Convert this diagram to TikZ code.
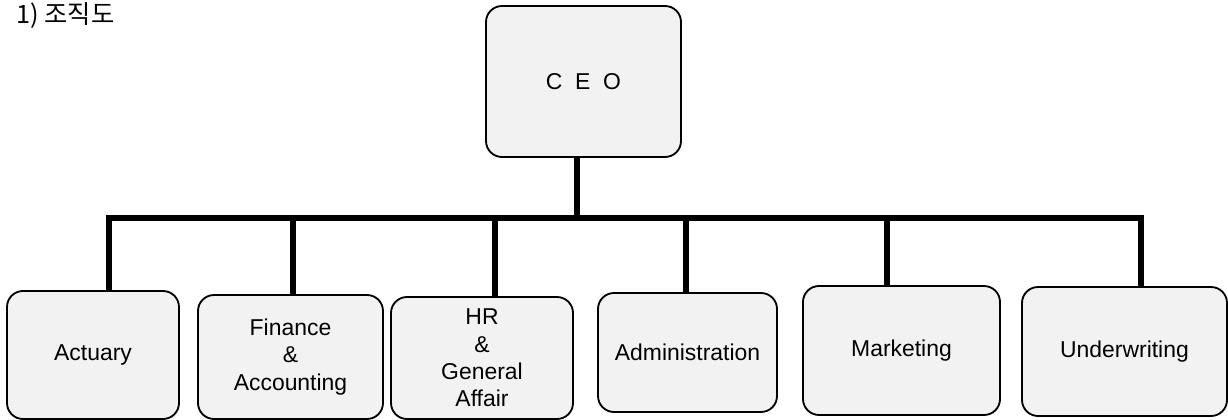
\documentclass[tikz,border=0pt]{standalone}
\usepackage{fontspec}
\setmainfont{Liberation Sans}
\newfontfamily\krfont{Noto Sans CJK KR}
\usetikzlibrary{calc}
\tikzstyle{dept}=[rectangle,draw=black,fill=black!5,line width=1.3pt,rounded corners=0.4cm,align=center,font=\fontsize{16.3}{19.5}\selectfont]
\tikzstyle{link}=[line width=4.3pt]

\begin{document}
\begin{tikzpicture}[x=0.025cm,y=-0.025cm]
\def \bary {218};
\def \px {0.025};

\useasboundingbox (0,0) rectangle (1228,420);

\node[anchor=base west,inner sep=0pt,font=\krfont\fontsize{18}{21}\selectfont] (title) at (16,24) {1) 조직도};

\node[dept,minimum width=195*\px cm,minimum height=151*\px cm] (ceo) at (583.5,81.5) {C~~E~~O};
\coordinate (dceo) at (577,\bary);
\draw[link] (dceo) -- (dceo |- ceo.south);

\foreach \name/\cx/\cy/\w/\h/\dx/\lbl in {
	act/93/355/172/128/109/{Actuary},
	fin/290.5/357/185/124/293/{Finance\\\&\\Accounting},
	hr/482/358/182/122/495/{HR\\\&\\General\\Affair},
	adm/687.5/352.5/179/119/686/{Administration},
	mkt/901.5/350.5/197/129/887/{Marketing},
	und/1124.5/351.5/205/129/1141/{Underwriting}} {
	\node[dept,minimum width=\w*\px cm,minimum height=\h*\px cm] (\name)
	at (\cx,\cy) {\lbl};
	\coordinate (d\name) at (\dx,\bary);
	\draw[link] (d\name) -- (d\name |- \name.north);
};

\draw[link,line cap=rect] (dact) -- (dund);

\end{tikzpicture}
\end{document}
